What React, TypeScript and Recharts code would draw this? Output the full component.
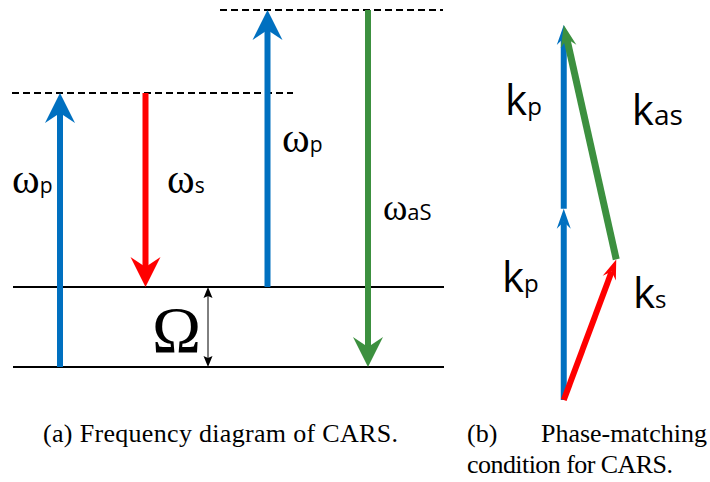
import React from 'react'
import { LineChart, Line, XAxis, YAxis, ReferenceLine, ReferenceDot } from 'recharts'

// ---- (a) frequency diagram, energies in units of the vibrational gap Ω ----
const levelEnergy = [0, 1]
const levelStart = 1.3
const levelEnd = 44.4
const virtualEnergy = [3.425, 4.4625]
const virtualStart = [1.2, 22]
const virtualEnd = [29.3, 44.3]

const beamBase = ['ω', 'ω', 'ω', 'ω']
const beamSub = ['p', 's', 'p', 'aS']
const beamX = [6.0, 14.55, 26.75, 36.8]
const beamFrom = [0, 3.425, 1, 4.4625]
const beamTo = [3.425, 1, 4.4625, 0]
const beamLabelX = [1.2, 16.7, 28.2, 38.3]
const beamLabelY = [2.175, 2.175, 2.69, 1.84]

const gapX = 20.8
const gapLabel = 'Ω'
const gapLabelX = 15.2
const gapLabelY = 0.19

// ---- (b) phase matching, wave vectors ----
const vecBase = ['k', 'k', 'k', 'k']
const vecSub = ['p', 'p', 's', 'as']
const vecFromX = [0, 0, 0, 0.28]
const vecFromY = [0, 1.02, 0, 0.75]
const vecToX = [0, 0, 0.28, 0]
const vecToY = [1.02, 2, 0.75, 2]
const vecLabelX = [-0.33, -0.313, 0.369, 0.363]
const vecLabelY = [0.576, 1.52, 0.49, 1.467]

const BLUE = '#0070C0'
const RED = '#FF0000'
const GREEN = '#3C903F'
const beamColors = [BLUE, RED, BLUE, GREEN]
const vecColors = [BLUE, BLUE, RED, GREEN]
const vecHeads = [
	{ len: 20, half: 7, notch: 13 },
	{ len: 20, half: 7, notch: 13 },
	{ len: 20, half: 7, notch: 13 },
	{ len: 22, half: 8, notch: 14 },
]

const SERIF = '"Liberation Serif", serif'
const SANS = '"Open Sans", sans-serif'

type Head = { len: number; half: number; notch: number }

// draws shaft + stealth-style head from the pixel ends recharts hands us
const arrowShape =
	(color: string, width: number, head: Head, twoHeads = false) =>
	(p: any) => {
		const { x1, y1, x2, y2 } = p
		const L = Math.hypot(x2 - x1, y2 - y1) || 1
		const ux = (x2 - x1) / L
		const uy = (y2 - y1) / L
		const nx = -uy
		const ny = ux
		const headPts = (tx: number, ty: number, dx: number, dy: number) => {
			const bx = tx - dx * head.len
			const by = ty - dy * head.len
			return [
				`${tx},${ty}`,
				`${bx + nx * head.half},${by + ny * head.half}`,
				`${tx - dx * head.notch},${ty - dy * head.notch}`,
				`${bx - nx * head.half},${by - ny * head.half}`,
			].join(' ')
		}
		const sx = twoHeads ? x1 + ux * head.notch : x1
		const sy = twoHeads ? y1 + uy * head.notch : y1
		return (
			<g>
				<line
					x1={sx}
					y1={sy}
					x2={x2 - ux * head.notch}
					y2={y2 - uy * head.notch}
					stroke={color}
					strokeWidth={width}
				/>
				<polygon points={headPts(x2, y2, ux, uy)} fill={color} />
				{twoHeads && <polygon points={headPts(x1, y1, -ux, -uy)} fill={color} />}
			</g>
		)
	}

const labelShape =
	(base: string, sub: string, baseFont: string, baseSize: number, subSize: number) =>
	(p: any) => (
		<text x={p.cx} y={p.cy} fill="#000">
			<tspan fontFamily={baseFont} fontSize={baseSize}>
				{base}
			</tspan>
			<tspan fontFamily={SANS} fontSize={subSize}>
				{sub}
			</tspan>
		</text>
	)

const beamBaseSize = [42, 42, 42, 37]
const beamSubSize = [21, 21, 21, 22]
const vecSubSize = [24, 24, 24, 28]

const FrequencyDiagram = () => (
	<LineChart
		width={450}
		height={400}
		margin={{ top: 10, right: 0, bottom: 33, left: 0 }}
	>
		<XAxis type="number" dataKey="x" domain={[0, 45]} hide />
		<YAxis type="number" dataKey="y" domain={[0, 4.4625]} hide />
		{levelEnergy.map((e, i) => (
			<Line
				key={`lvl${i}`}
				data={[
					{ x: levelStart, y: e },
					{ x: levelEnd, y: e },
				]}
				dataKey="y"
				stroke="#000"
				strokeWidth={2}
				dot={false}
				isAnimationActive={false}
			/>
		))}
		{virtualEnergy.map((e, i) => (
			<Line
				key={`virt${i}`}
				data={[
					{ x: virtualStart[i], y: e },
					{ x: virtualEnd[i], y: e },
				]}
				dataKey="y"
				stroke="#000"
				strokeWidth={2}
				strokeDasharray="7 4"
				dot={false}
				isAnimationActive={false}
			/>
		))}
		<ReferenceLine
			segment={[
				{ x: gapX, y: levelEnergy[0] },
				{ x: gapX, y: levelEnergy[1] },
			]}
			ifOverflow="visible"
			shape={arrowShape('#000', 1, { len: 11, half: 4.5, notch: 9 }, true)}
		/>
		{beamX.map((x, i) => (
			<ReferenceLine
				key={`beam${i}`}
				segment={[
					{ x, y: beamFrom[i] },
					{ x, y: beamTo[i] },
				]}
				ifOverflow="visible"
				shape={arrowShape(beamColors[i], 6, { len: 30, half: 15, notch: 20 })}
			/>
		))}
		{beamLabelX.map((x, i) => (
			<ReferenceDot
				key={`bl${i}`}
				x={x}
				y={beamLabelY[i]}
				r={0}
				ifOverflow="visible"
				shape={labelShape(beamBase[i], beamSub[i], SERIF, beamBaseSize[i], beamSubSize[i])}
			/>
		))}
		<ReferenceDot
			x={gapLabelX}
			y={gapLabelY}
			r={0}
			ifOverflow="visible"
			shape={(p: any) => (
				<text x={p.cx} y={p.cy} fontFamily={SERIF} fontSize={66} fill="#000">
					{gapLabel}
				</text>
			)}
		/>
	</LineChart>
)

const PhaseMatching = () => (
	<LineChart
		width={240}
		height={410}
		margin={{ top: 25, right: 0, bottom: 10, left: 0 }}
	>
		<XAxis type="number" dataKey="x" domain={[-0.5, 0.78]} hide />
		<YAxis type="number" dataKey="y" domain={[0, 2]} hide />
		<Line
			data={vecFromX.map((x, i) => ({ x, y: vecFromY[i] }))}
			dataKey="y"
			stroke="none"
			dot={false}
			isAnimationActive={false}
		/>
		{vecFromX.map((x, i) => (
			<ReferenceLine
				key={`vec${i}`}
				segment={[
					{ x, y: vecFromY[i] },
					{ x: vecToX[i], y: vecToY[i] },
				]}
				ifOverflow="visible"
				shape={arrowShape(vecColors[i], i === 3 ? 7 : 6, vecHeads[i])}
			/>
		))}
		{vecLabelX.map((x, i) => (
			<ReferenceDot
				key={`vl${i}`}
				x={x}
				y={vecLabelY[i]}
				r={0}
				ifOverflow="visible"
				shape={labelShape(vecBase[i], vecSub[i], SANS, 42, vecSubSize[i])}
			/>
		))}
	</LineChart>
)

const App = () => (
	<div
		style={{
			position: 'absolute',
			left: 0,
			top: 0,
			width: 710,
			height: 482,
			background: '#fff',
			overflow: 'hidden',
		}}
	>
		<div style={{ position: 'absolute', left: 0, top: 0 }}>
			<FrequencyDiagram />
		</div>
		<div style={{ position: 'absolute', left: 470, top: 0 }}>
			<PhaseMatching />
		</div>
		<svg
			width={710}
			height={482}
			style={{ position: 'absolute', left: 0, top: 0, pointerEvents: 'none' }}
		>
			<g fontFamily={SERIF} fontSize={26} fill="#000">
				<text x={43} y={442} textLength={355} lengthAdjust="spacing">
					(a) Frequency diagram of CARS.
				</text>
				<text x={467} y={442}>
					(b)
				</text>
				<text x={707} y={442} textAnchor="end">
					Phase-matching
				</text>
				<text x={467} y={473} textLength={206} lengthAdjust="spacing">
					condition for CARS.
				</text>
			</g>
		</svg>
	</div>
)

export default App
